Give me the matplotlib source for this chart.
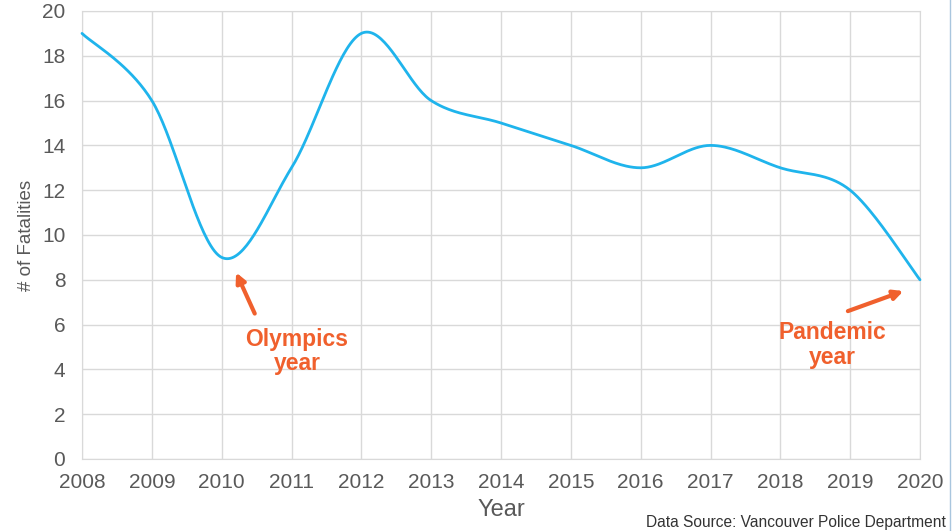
import numpy as np
import matplotlib.pyplot as plt
from matplotlib.lines import Line2D

# Vancouver traffic fatalities by year
years = [2008, 2009, 2010, 2011, 2012, 2013, 2014, 2015, 2016, 2017, 2018, 2019, 2020]
fatalities = [19, 16, 9, 13, 19, 16, 15, 14, 13, 14, 13, 12, 8]


def excel_smooth(x, y, n=40):
    # Excel-style smoothed line: cubic Bezier segments, control points from neighbours
    x = np.asarray(x, float)
    y = np.asarray(y, float)
    px, py = [], []
    for i in range(len(x) - 1):
        x0, y0 = (x[i - 1], y[i - 1]) if i > 0 else (x[i], y[i])
        x3, y3 = (x[i + 2], y[i + 2]) if i + 2 < len(x) else (x[i + 1], y[i + 1])
        c1 = (x[i] + (x[i + 1] - x0) / 6, y[i] + (y[i + 1] - y0) / 6)
        c2 = (x[i + 1] - (x3 - x[i]) / 6, y[i + 1] - (y3 - y[i]) / 6)
        t = np.linspace(0, 1, n)
        bx = (1 - t) ** 3 * x[i] + 3 * (1 - t) ** 2 * t * c1[0] + 3 * (1 - t) * t ** 2 * c2[0] + t ** 3 * x[i + 1]
        by = (1 - t) ** 3 * y[i] + 3 * (1 - t) ** 2 * t * c1[1] + 3 * (1 - t) * t ** 2 * c2[1] + t ** 3 * y[i + 1]
        px.extend(bx)
        py.extend(by)
    return np.array(px), np.array(py)


plt.rcParams['font.family'] = ['Liberation Sans', 'DejaVu Sans']

fig = plt.figure(figsize=(9.52, 5.31), dpi=100)
ax = fig.add_axes([82 / 952, 1 - 459 / 531, (920 - 82) / 952, (459 - 11) / 531])

sx, sy = excel_smooth(years, fatalities)
ax.plot(sx, sy, color='#1FB4EC', linewidth=2, solid_capstyle='round', clip_on=False, zorder=3)

ax.set_xlim(2008, 2020)
ax.set_ylim(0, 20)
ax.set_xticks(years)
ax.set_yticks(range(0, 21, 2))
ax.grid(True, color='#D9D9D9', linewidth=1)
ax.set_axisbelow(True)
for s in ax.spines.values():
    s.set_color('#D9D9D9')
ax.tick_params(length=0, labelsize=15, colors='#595959')
ax.tick_params(axis='y', pad=12)
ax.tick_params(axis='x', pad=10)

ax.set_xlabel('Year', fontsize=17, color='#595959', labelpad=5)
ax.set_ylabel('# of Fatalities', fontsize=13.5, color='#595959', labelpad=5)

orange = '#F0602D'
ax.annotate('', xy=(2010.19, 8.44), xytext=(2010.49, 6.38),
            arrowprops=dict(arrowstyle='-|>', color=orange, lw=3, mutation_scale=14))
ax.text(2011.08, 4.8, 'Olympics\nyear', color=orange, fontsize=16.5, fontweight='bold',
        ha='center', va='center', linespacing=1.1)
ax.annotate('', xy=(2019.80, 7.54), xytext=(2018.93, 6.56),
            arrowprops=dict(arrowstyle='-|>', color=orange, lw=3, mutation_scale=14))
ax.text(2018.74, 5.1, 'Pandemic\nyear', color=orange, fontsize=16.5, fontweight='bold',
        ha='center', va='center', linespacing=1.1)

fig.text(946 / 952, 1 - 522 / 531, 'Data Source: Vancouver Police Department',
         fontsize=11.2, color='#333333', ha='right', va='center')
fig.add_artist(Line2D([950 / 952, 950 / 952], [0, 1], transform=fig.transFigure,
                      color='#A9C6DE', linewidth=1))

fig.savefig('out.png', dpi=100)
